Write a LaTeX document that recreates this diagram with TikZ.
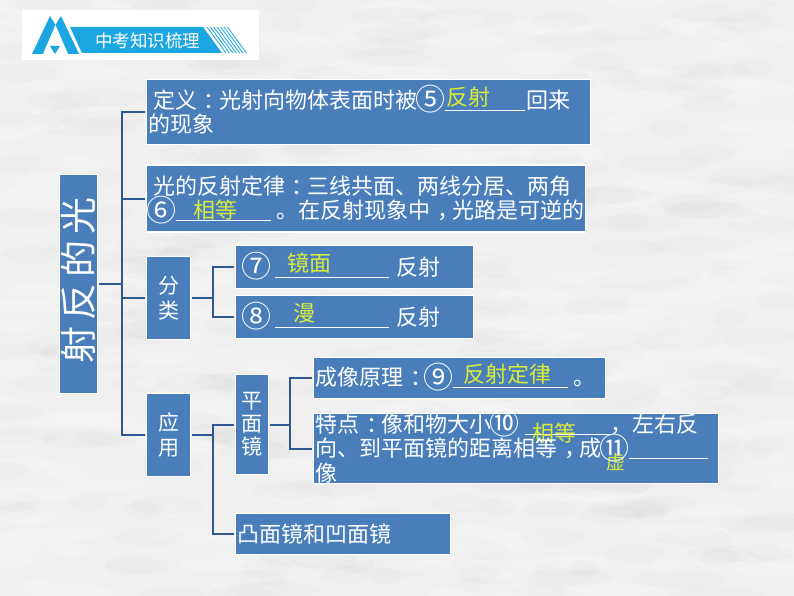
\documentclass[tikz,border=0pt]{standalone}
\usepackage{fontspec}
\setmainfont{Noto Sans CJK SC}
\usepackage{xcolor}
\definecolor{paper}{HTML}{F0F0F0}
\definecolor{boxblue}{HTML}{4A7EBB}
\definecolor{linkblue}{HTML}{2F5790}
\definecolor{logoblue}{HTML}{1BA6E2}
\definecolor{answer}{HTML}{D9EC3A}
\usepackage{tikz}
\usetikzlibrary{positioning,calc}
% #1 blank width, #2 offset of the answer, #3 raise of the answer, #4 answer
\newcommand{\fillin}[4]{\rlap{\rule[-2.5pt]{#1}{1pt}}\makebox[#1][l]{\hspace*{#2}\smash{\raisebox{#3}{\color{answer}#4}}}}
% the numbers in rings are larger than the text round them
\newcommand{\ringnum}[1]{\makebox[26pt][c]{\smash{\raisebox{-2.2pt}{\fontsize{30}{30}\selectfont #1}}}}
% punctuation that stands in the middle of its square
\newcommand{\midmark}[1]{\hspace*{7pt}\makebox[15pt][l]{#1}}

\begin{document}
\begin{tikzpicture}[x=1pt,y=-1pt,
    every node/.style={text=white},
    box/.style={draw=white, fill=boxblue, line width=1.5pt, outer sep=1.5pt,
                inner xsep=1pt, inner ysep=0pt, align=left,
                font=\fontsize{22}{24.5}\selectfont},
    tag/.style={box, align=center, inner xsep=0pt,
                font=\fontsize{21}{24.5}\selectfont},
    link/.style={draw=linkblue, line width=2pt}]
  \useasboundingbox (0,0) rectangle (794,596);
  \fill[paper] (0,0) rectangle (794,596);
  % paper grain
  \pgfmathsetseed{41}
  \foreach \i in {1,...,260} {
    \pgfmathsetmacro{\gx}{rnd*794}
    \pgfmathsetmacro{\gy}{rnd*596}
    \pgfmathsetmacro{\gw}{15+rnd*35}
    \fill[white, opacity=0.15] (\gx,\gy) ellipse [x radius=\gw, y radius=7];
    \pgfmathsetmacro{\gx}{rnd*794}
    \pgfmathsetmacro{\gy}{rnd*596}
    \fill[black, opacity=0.01] (\gx,\gy) ellipse [x radius=\gw, y radius=9];
  }
  % logo
  \fill[white] (22,10) rectangle (259,60);
  \fill[logoblue] (32,54) -- (50,16) -- (55.5,25) -- (61,16) -- (79,54) -- cycle;
  \fill[white] (55.5,25) -- (43,54) -- (68,54) -- cycle;
  \fill[logoblue] (50,46) -- (60,46) -- (55,54) -- cycle;
  \fill[logoblue] (70,27) -- (203,27) -- (222,53) -- (82,53) -- cycle;
  \foreach \i in {0,...,6}
    \draw[logoblue, line width=0.8pt] (207+3.4*\i,27) -- (226+3.4*\i,53);
  \node[font=\fontsize{17.5}{20}\selectfont] (logotext) at (147.5,41) {中考知识梳理};
  % boxes
  \node[box, rotate=90, minimum width=219, minimum height=38, inner sep=0pt,
        font=\fontsize{37}{40}\selectfont] (root) at (78.5,284)
        {\hspace*{8pt}\raisebox{-2pt}{射\hspace{6pt}反\hspace{6pt}的\hspace{6pt}光}};
  \node[box, minimum width=444, minimum height=65, text width=441] (def) at (368.5,112)
        {\hspace*{5pt}定义\midmark{：}光射向物体表面时被\ringnum{⑤}\hspace{2pt}\fillin{80pt}{1pt}{3pt}{反射}\hspace{1pt}回来\\的现象};
  \node[box, minimum width=439, minimum height=67, text width=436] (law) at (366,198.5)
        {\hspace*{5pt}光的反射定律\midmark{：}三线共面、两线分居、两角\\\ringnum{⑥}\hspace{2pt}\fillin{95pt}{17pt}{0pt}{相等}\hspace{5pt}。在反射现象中\midmark{，}光路是可逆的};
  \node[tag, minimum width=44, minimum height=83] (kind) at (168.5,298) {分\\类};
  \node[tag, minimum width=44, minimum height=83] (use) at (168.5,435) {应\\用};
  \node[box, minimum width=238, minimum height=43, text width=235] (seven) at (354.5,267)
        {\hspace*{6pt}\ringnum{⑦}\hspace{6pt}\fillin{114pt}{12pt}{4pt}{镜面}\hspace{7pt}反射};
  \node[box, minimum width=238, minimum height=43, text width=235] (eight) at (354.5,317)
        {\hspace*{6pt}\ringnum{⑧}\hspace{6pt}\fillin{114pt}{18pt}{4pt}{漫}\hspace{7pt}反射};
  \node[tag, minimum width=33, minimum height=100,
        font=\fontsize{21}{23}\selectfont] (plane) at (252,424.5) {平\\面\\镜};
  \node[box, minimum width=292, minimum height=41, text width=289] (principle) at (459.5,378)
        {成像原理\midmark{：}\ringnum{⑨}\hspace{2pt}\fillin{115pt}{10pt}{3pt}{反射定律}\hspace{5pt}。};
  \node[box, minimum width=405, minimum height=70, text width=402, inner ysep=-5pt] (feature) at (516,448.5)
        {特点\midmark{：}像和物大小\ringnum{⑩}\hspace{8pt}\fillin{85pt}{7pt}{-9pt}{相等}，\hspace{1pt}左右反\\向、到平面镜的距离相等\midmark{，}成\rlap{\hspace{5pt}\smash{\raisebox{-13pt}{\fontsize{19}{20}\selectfont\color{answer}虚}}}\ringnum{⑪}\hspace{2pt}\fillin{79pt}{0pt}{0pt}{}\\像};
  \node[box, minimum width=215, minimum height=41, text width=212] (mirror) at (343,534)
        {凸面镜和凹面镜};
  % connectors
  \coordinate (trunk) at (122,284);
  \coordinate (kindfork) at (213,298);
  \coordinate (usefork) at (213,435);
  \coordinate (planefork) at (290,424.5);
  \draw[link] (root.south) -- (trunk);
  \foreach \leaf in {def,law,kind,use}
    \draw[link] (\leaf.west) -| (trunk);
  \draw[link] (kind.east) -- (kindfork);
  \draw[link] (seven.west) -| (kindfork);
  \draw[link] (eight.west) -| (kindfork);
  \draw[link] (use.east) -- (usefork);
  \draw[link] (plane.west) -| (usefork);
  \draw[link] (mirror.west) -| (usefork);
  \draw[link] (plane.east) -- (planefork);
  \draw[link] (principle.west) -| (planefork);
  \draw[link] (feature.west) -| (planefork);
\end{tikzpicture}
\end{document}
